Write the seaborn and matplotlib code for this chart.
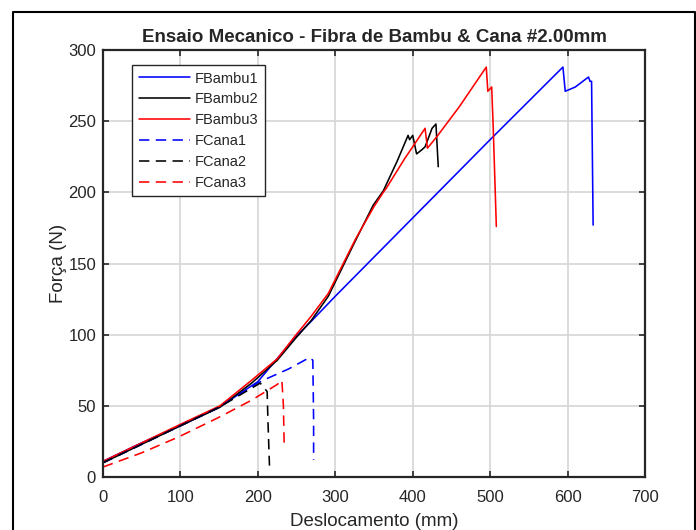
import numpy as np
import pandas as pd
import matplotlib
matplotlib.use('Agg')
import matplotlib.pyplot as plt
import seaborn as sns
from matplotlib.lines import Line2D

# curves (deslocamento mm, forca N)
fbambu1_x = [0, 50, 100, 150, 200, 248, 270, 300, 400, 500, 594, 597, 610, 627, 629, 631, 633]
fbambu1_y = [11, 24, 36, 49, 67, 98, 110, 127, 182, 237, 288, 271, 274, 281, 278, 278, 177]

fbambu2_x = [0, 50, 100, 151, 192, 225, 248, 269, 291, 326, 349, 362, 380, 394, 396, 400, 405, 412, 416, 425, 430, 433]
fbambu2_y = [10, 23, 36, 49, 66, 82, 97, 110, 127, 166, 191, 201, 222, 240, 237, 240, 227, 230, 232, 245, 248, 218]

fbambu3_x = [0, 50, 100, 151, 192, 225, 248, 269, 291, 326, 350, 362, 366, 390, 400, 416, 419, 431, 460, 495, 497, 502, 504, 508]
fbambu3_y = [11, 24, 37, 50, 68, 83, 99, 113, 129, 167, 190, 200, 203, 224, 232, 245, 231, 239, 260, 288, 271, 274, 245, 176]

fcana1_x = [0, 50, 100, 150, 200, 207, 240, 267, 271, 272, 272]
fcana1_y = [10, 23, 36, 49, 66, 68, 76, 84, 82, 40, 12]

fcana2_x = [0, 50, 100, 150, 200, 203, 212, 213, 215]
fcana2_y = [10, 23, 36, 49, 65, 66, 60, 40, 8]

fcana3_x = [0, 50, 97, 150, 192, 225, 231, 233, 234]
fcana3_y = [7, 17, 28, 42, 54, 65, 68, 50, 22]

series = [
    ('FBambu1', fbambu1_x, fbambu1_y, 'blue', '-'),
    ('FBambu2', fbambu2_x, fbambu2_y, 'black', '-'),
    ('FBambu3', fbambu3_x, fbambu3_y, 'red', '-'),
    ('FCana1', fcana1_x, fcana1_y, 'blue', (0, (6.5, 4))),
    ('FCana2', fcana2_x, fcana2_y, 'black', (0, (6.5, 4))),
    ('FCana3', fcana3_x, fcana3_y, 'red', (0, (6.5, 4))),
]

sns.set_style('ticks')
plt.rcParams['font.family'] = ['Liberation Sans', 'DejaVu Sans']

fig = plt.figure(figsize=(6.96, 5.30), dpi=100)
ax = fig.add_axes([103 / 696, 53 / 530, 542 / 696, 427 / 530])

for name, xs, ys, col, ls in series:
    sns.lineplot(x=xs, y=ys, ax=ax, sort=False, estimator=None, color=col,
                 linestyle=ls, linewidth=1.15, label=name)

ax.set_xlim(0, 700)
ax.set_ylim(0, 300)
ax.set_xticks(np.arange(0, 701, 100))
ax.set_yticks(np.arange(0, 301, 50))
ax.grid(True, color='#d6d6d6', linewidth=1.2)
ax.set_axisbelow(True)
ax.tick_params(direction='in', length=4, width=1.2, labelsize=12, colors='#262626',
               top=True, right=True, pad=5)
ax.tick_params(axis='x', pad=9)
for s in ax.spines.values():
    s.set_linewidth(1.6)
    s.set_color('#262626')

ax.set_title('Ensaio Mecanico - Fibra de Bambu & Cana #2.00mm', fontsize=13.5,
             fontweight='bold', pad=6)
ax.set_xlabel('Deslocamento (mm)', fontsize=13.5, color='#262626', labelpad=6)
ax.set_ylabel('Força (N)', fontsize=13.5, color='#262626', labelpad=1)

leg = ax.legend(loc='upper left', bbox_to_anchor=(29 / 542, 412 / 427), borderaxespad=0,
                fontsize=10.5, handlelength=3.5, handletextpad=0.35, labelspacing=0.47,
                fancybox=False, framealpha=1, edgecolor='#262626', borderpad=0.45)
leg.get_frame().set_linewidth(1.0)

# outer window frame
x0, x1, y1 = 12.5 / 696, 694.5 / 696, 1 - 11.5 / 530
fig.add_artist(Line2D([x0, x0, x1, x1], [0, y1, y1, 0], transform=fig.transFigure,
                      color='black', linewidth=1.5))

fig.savefig('out.png', dpi=100)
